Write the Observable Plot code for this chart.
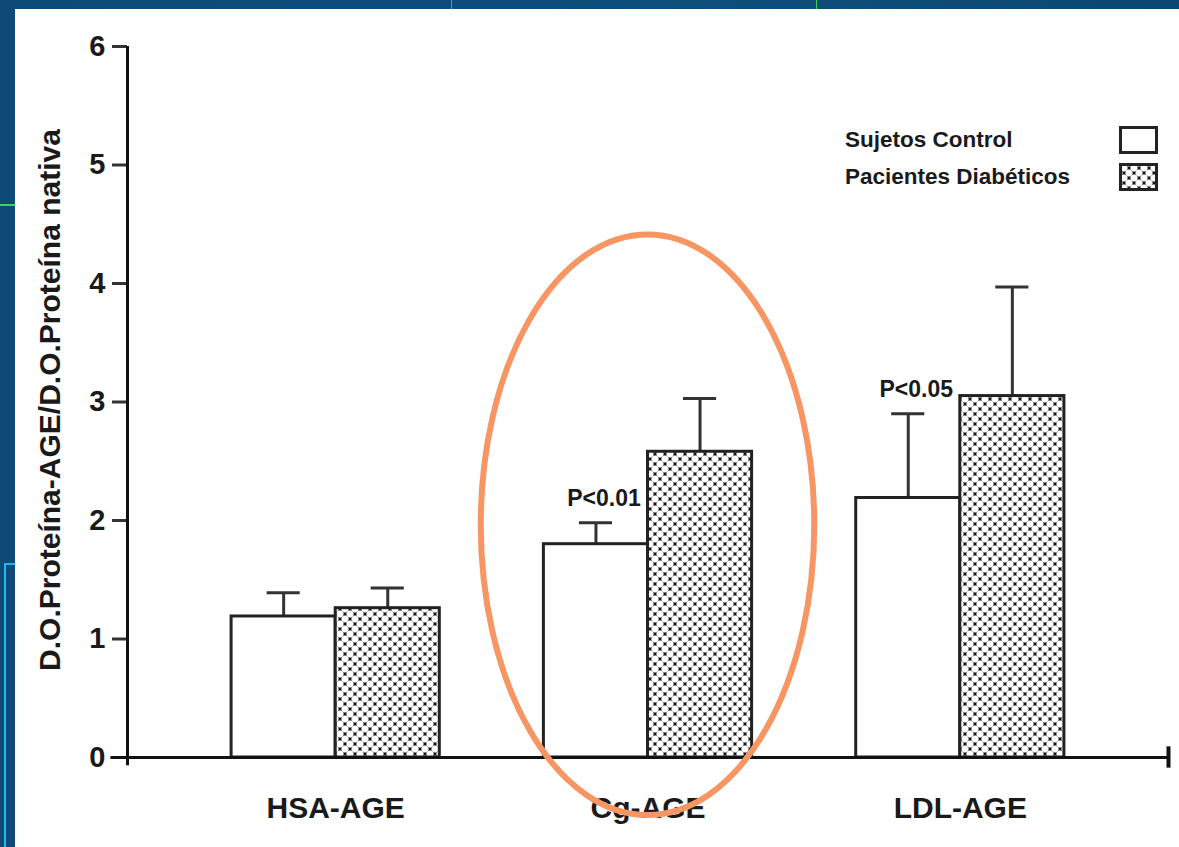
<!DOCTYPE html>
<html>
<head>
<meta charset="utf-8">
<script src="https://cdn.jsdelivr.net/npm/d3@7"></script>
<script src="https://cdn.jsdelivr.net/npm/@observablehq/plot@0.6"></script>
<style>
  html, body { margin: 0; padding: 0; }
  body { width: 1179px; height: 847px; overflow: hidden; background: linear-gradient(90deg, #0d4a78 0%, #0f4f7c 60%, #0c4672 100%); position: relative; font-family: "Liberation Sans", Arial, sans-serif; }
  #panel { position: absolute; left: 15px; top: 9px; width: 1164px; height: 838px; background: #fff; }
  #legend { position: absolute; left: 830px; top: 117px; font-size: 22.5px; font-weight: bold; color: #1a1a1a; }
  .lrow { position: absolute; left: 0; white-space: nowrap; height: 28px; }
  .lrow span { position: absolute; left: 0; top: 0; line-height: 28px; }
  .lrow svg { position: absolute; left: 274px; top: 0; }
  .deco { position: absolute; }
</style>
</head>
<body>
<div class="deco" style="left:0;top:204px;width:15px;height:2px;background:#3fd44a"></div>
<div class="deco" style="left:4px;top:563px;width:11px;height:2px;background:#22b8ea"></div>
<div class="deco" style="left:4px;top:563px;width:2px;height:284px;background:#22b8ea"></div>
<div class="deco" style="left:451px;top:0;width:1px;height:9px;background:#3fa8a0"></div>
<div class="deco" style="left:816px;top:0;width:1px;height:9px;background:#3fd44a"></div>
<div id="panel"></div>
<script>
// ---- data ----
const groups = ["HSA-AGE", "Cg-AGE", "LDL-AGE"];
const seriesNames = ["Sujetos Control", "Pacientes Diabéticos"];
const controlValues = [1.19, 1.80, 2.19];
const controlErrTop = [1.39, 1.98, 2.90];
const diabeticValues = [1.26, 2.58, 3.05];
const diabeticErrTop = [1.43, 3.03, 3.97];
const yTicks = [0, 1, 2, 3, 4, 5, 6];
const pGroups = ["Cg-AGE", "LDL-AGE"];
const pTexts = ["P<0.01", "P<0.05"];
const yLabel = "D.O.Proteína-AGE/D.O.Proteína nativa";
// highlight ellipse around Cg-AGE (data units)
const ellipseGroup = "Cg-AGE";
const ellipseCenterY = 1.96;
const ellipseHalfWidth = 0.534;
const ellipseHalfHeight = 2.45;

// ---- table ----
const barW = 1 / 3;
const rows = [];
groups.forEach((g, i) => {
  const gx = i + 1;
  rows.push({group: g, series: seriesNames[0], x1: gx - barW, x2: gx, value: controlValues[i], err: controlErrTop[i]});
  rows.push({group: g, series: seriesNames[1], x1: gx, x2: gx + barW, value: diabeticValues[i], err: diabeticErrTop[i]});
});
rows.forEach(d => d.cx = (d.x1 + d.x2) / 2);
const capHalf = 0.053;
const pRows = pGroups.map((g, k) => {
  const r = rows.find(d => d.group === g && d.series === seriesNames[0]);
  return {x: r.cx, y: r.err, text: pTexts[k]};
});

const ink = "#1a1a1a";
const font = "Liberation Sans, Arial, sans-serif";

const ellipseMark = (index, scales) => {
  const gx = groups.indexOf(ellipseGroup) + 1;
  const cx = scales.x(gx), cy = scales.y(ellipseCenterY);
  const rx = scales.x(gx + ellipseHalfWidth) - cx;
  const ry = cy - scales.y(ellipseCenterY + ellipseHalfHeight);
  const el = document.createElementNS("http://www.w3.org/2000/svg", "ellipse");
  el.setAttribute("cx", cx); el.setAttribute("cy", cy);
  el.setAttribute("rx", rx); el.setAttribute("ry", ry);
  el.setAttribute("fill", "none");
  el.setAttribute("stroke", "#f79563");
  el.setAttribute("stroke-width", 6);
  return el;
};

const chart = Plot.plot({
  width: 1164,
  height: 838,
  marginTop: 37,
  marginBottom: 90,
  marginLeft: 112,
  marginRight: 11,
  style: {fontFamily: font, background: "white", color: ink, overflow: "visible"},
  x: {domain: [1 / 3, 11 / 3]},
  y: {domain: [0, 6]},
  marks: [
    Plot.axisY({ticks: yTicks, tickSize: 15, tickPadding: 7, fontSize: 29, fontWeight: "bold", strokeWidth: 3, stroke: "#333", label: null, tickFormat: d => String(d)}),
    Plot.axisX({ticks: [1, 2, 3], tickFormat: d => groups[d - 1], tickSize: 0, tickPadding: 39, fontSize: 30, fontWeight: "bold", label: null}),
    Plot.text([yLabel], {frameAnchor: "left", textAnchor: "middle", rotate: -90, dx: -77, dy: -2, fontSize: 30, fontWeight: "bold", fill: ink}),
    // error bars
    Plot.ruleX(rows, {x: "cx", y1: "value", y2: "err", stroke: "#333", strokeWidth: 3}),
    Plot.ruleY(rows, {y: "err", x1: d => d.cx - capHalf, x2: d => d.cx + capHalf, stroke: "#333", strokeWidth: 3}),
    // bars
    Plot.rectY(rows, {x1: "x1", x2: "x2", y1: 0, y2: "value",
      fill: d => d.series === seriesNames[0] ? "white" : "url(#xhatch)",
      stroke: "#222", strokeWidth: 3}),
    // axes lines
    Plot.ruleX([1 / 3], {y1: -0.07, y2: 6, stroke: "#111", strokeWidth: 3}),
    Plot.ruleY([0], {x1: 0.28, x2: 11 / 3, stroke: "#111", strokeWidth: 3}),
    Plot.ruleX([11 / 3], {y1: -0.09, y2: 0.09, stroke: "#111", strokeWidth: 4}),
    // p-values
    Plot.text(pRows, {x: "x", y: "y", text: "text", dx: 8, dy: -24, fontSize: 23, fontWeight: "bold", fill: ink}),
    ellipseMark
  ]
});

// crosshatch pattern
const defs = d3.select(chart).insert("defs", ":first-child");
function addPattern(sel, id) {
  const p = sel.append("pattern").attr("id", id).attr("patternUnits", "userSpaceOnUse")
    .attr("width", 10).attr("height", 10);
  p.append("rect").attr("width", 10).attr("height", 10).attr("fill", "#7d7d7d");
  [[0,0],[10,0],[0,10],[10,10],[5,5]].forEach(([x,y]) => p.append("circle").attr("cx", x).attr("cy", y).attr("r", 3.3).attr("fill", "#fff"));
  [[5,0],[0,5],[10,5],[5,10]].forEach(([x,y]) => p.append("circle").attr("cx", x).attr("cy", y).attr("r", 1.2).attr("fill", "#111"));
}
addPattern(defs, "xhatch");

document.getElementById("panel").appendChild(chart);

// legend
const legend = document.createElement("div");
legend.id = "legend";
seriesNames.forEach((name, i) => {
  const row = document.createElement("div");
  row.className = "lrow";
  row.style.top = (i === 0 ? 0 : 37) + "px";
  const span = document.createElement("span");
  span.textContent = name;
  row.appendChild(span);
  const s = d3.create("svg").attr("width", 40).attr("height", 28);
  if (i === 1) addPattern(s.append("defs"), "xhatchLeg");
  s.append("rect").attr("x", 1.5).attr("y", 1.5).attr("width", 36).attr("height", 25)
    .attr("fill", i === 0 ? "white" : "url(#xhatchLeg)").attr("stroke", "#222").attr("stroke-width", 3);
  row.appendChild(s.node());
  legend.appendChild(row);
});
document.getElementById("panel").appendChild(legend);
</script>
</body>
</html>
